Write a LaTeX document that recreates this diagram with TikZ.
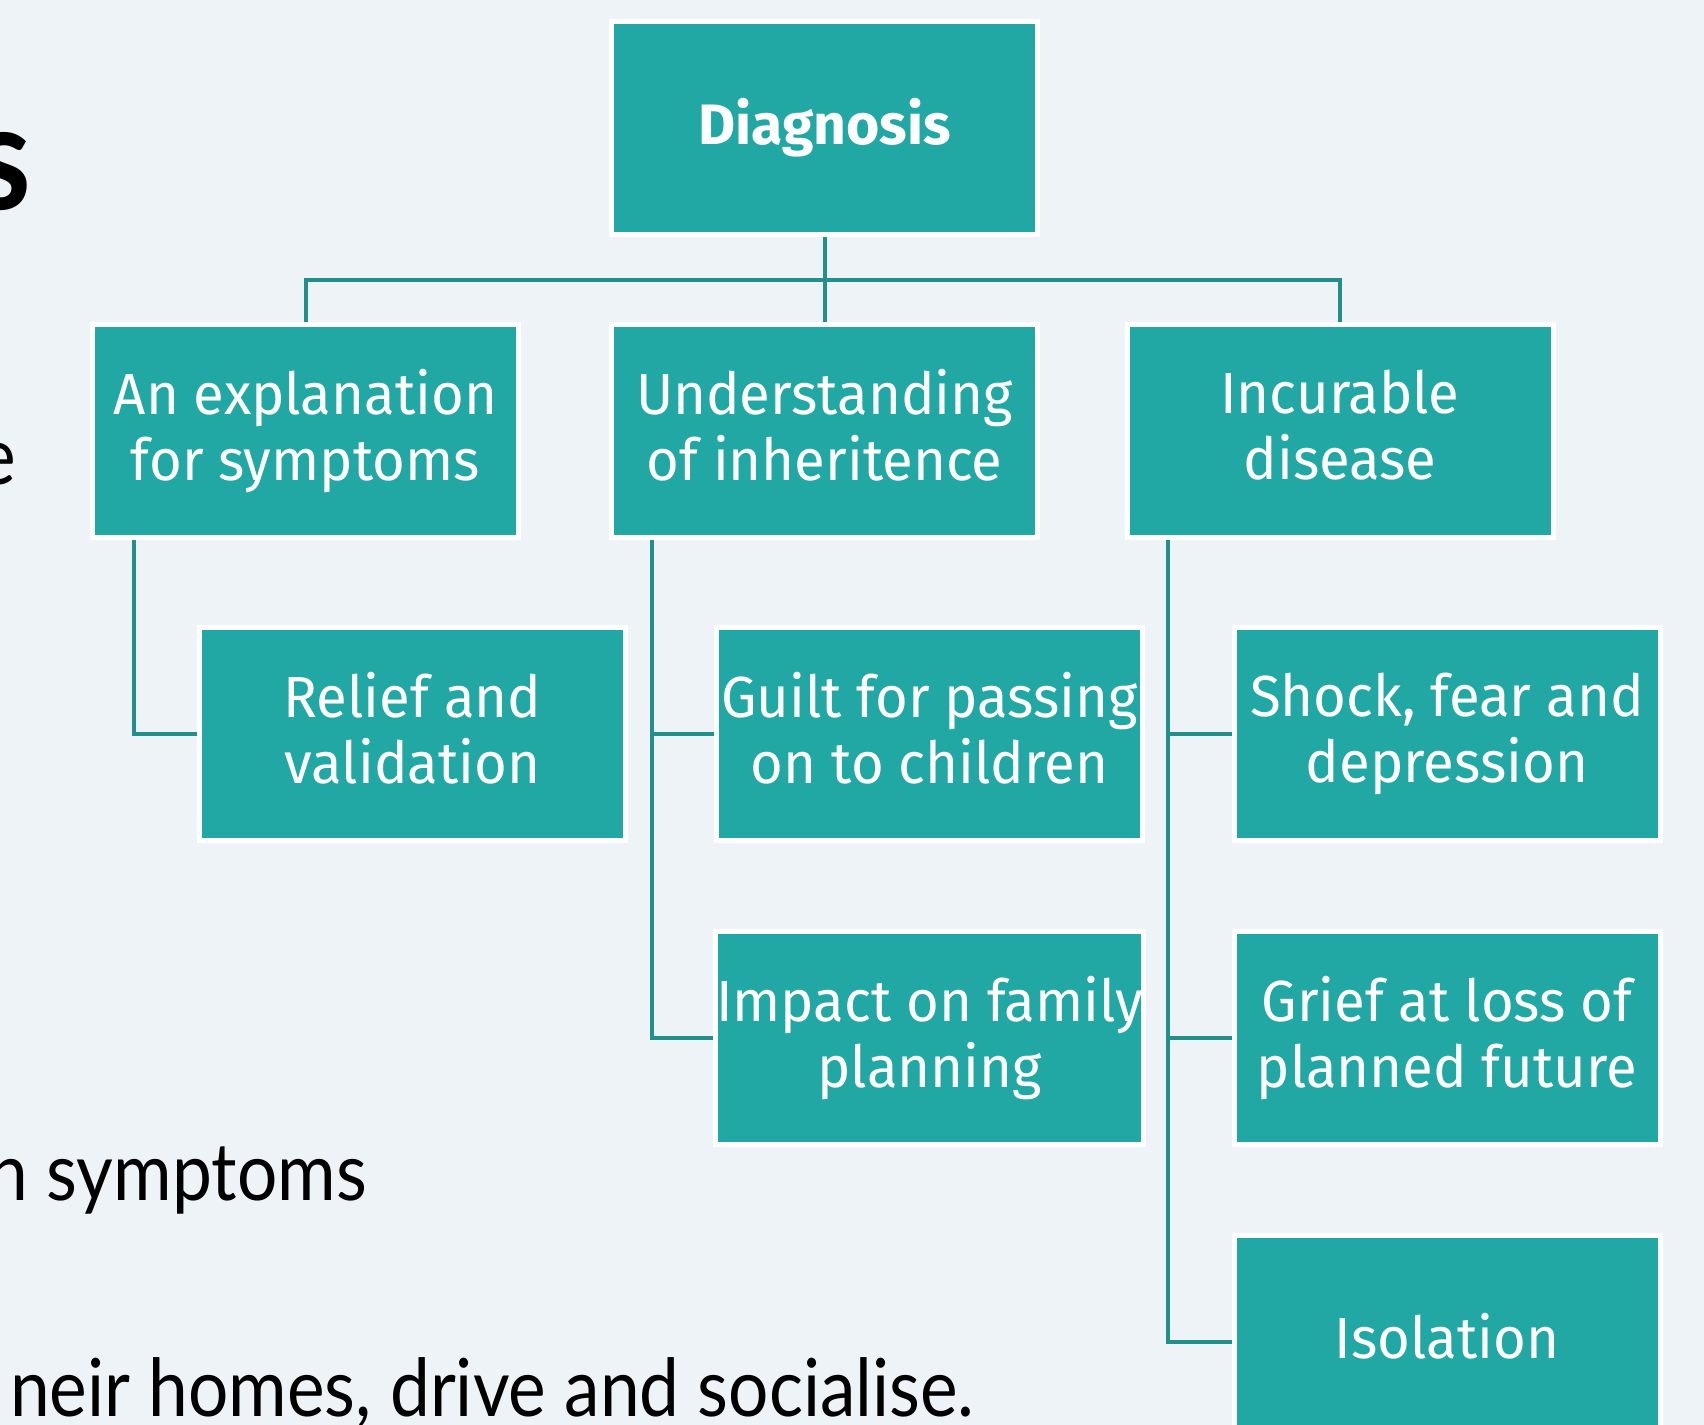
\documentclass[tikz,border=0pt]{standalone}
\usepackage{fontspec}
\newfontfamily\boxfont[FakeStretch=0.97]{Fira Sans}
\newfontfamily\diagfont{Fira Sans}
\newfontfamily\slidefont[FakeStretch=0.89]{Lato}
\newcommand\ls{\vphantom{Ahlgpy}}
\definecolor{bgc}{HTML}{EEF3F7}
\definecolor{tealbox}{HTML}{22A8A4}
\definecolor{tealline}{HTML}{238F8B}
\begin{document}
\begin{tikzpicture}[x=0.5pt,y=-0.5pt,
  box/.style={rectangle, fill=tealbox, draw=white, line width=2.5pt,
    minimum width=213pt, minimum height=106.5pt, inner sep=0pt,
    text=white, align=center, font=\boxfont\fontsize{29}{33}\selectfont},
  topbox/.style={box, font=\diagfont\bfseries\fontsize{28.5}{32}\selectfont},
  conn/.style={draw=tealline, line width=2pt},
  slide/.style={inner sep=0pt, text=black, font=\slidefont\fontsize{40}{44}\selectfont}]
\clip (0,0) rectangle (1704,1425);
\fill[bgc] (0,0) rectangle (1704,1425);
% left slide text (cut off)
\node[slide, anchor=base east, font=\slidefont\bfseries\fontsize{74}{80}\selectfont] (t1) at (32,209) {s};
\node[slide, anchor=base east] (t2) at (16,484) {e};
\node[slide, anchor=base east] (t3) at (367,1200) {n symptoms};
\node[slide, anchor=base east] (t4) at (975,1416) {neir homes, drive and socialise.};
% boxes
\node[topbox] (diag) at (824.5,127.5) {Diagnosis};
\node[box] (a) at (305.5,431) {An explanation\ls\\for symptoms\ls};
\node[box] (b) at (824.5,431) {Understanding\ls\\of inheritence\ls};
\node[box] (c) at (1340,431) {Incurable\ls\\disease\ls};
\node[box] (relief) at (412.5,734) {Relief and\ls\\validation\ls};
\node[box] (guilt) at (929.5,734) {Guilt for passing\ls\\on to children\ls};
\node[box] (shock) at (1447,734) {Shock, fear and\ls\\depression\ls};
\node[box] (impact) at (929.5,1038) {Impact on family\ls\\planning\ls};
\node[box] (grief) at (1447,1038) {Grief at loss of\ls\\planned future\ls};
\node[box] (iso) at (1447,1342) {Isolation\ls};
% connectors
\coordinate (hb) at (824.5,280);
\coordinate (ax) at (134,0);
\coordinate (bx) at (652,0);
\coordinate (cx) at (1168,0);
\draw[conn] (diag.south) -- (hb);
\draw[conn] (a.north) |- (hb) -| (c.north);
\draw[conn] (hb) -- (b.north);
\draw[conn] (a.south -| ax) |- (relief.west);
\draw[conn] (b.south -| bx) |- (impact.west);
\draw[conn] (bx |- guilt.west) -- (guilt.west);
\draw[conn] (c.south -| cx) |- (iso.west);
\draw[conn] (cx |- shock.west) -- (shock.west);
\draw[conn] (cx |- grief.west) -- (grief.west);
\end{tikzpicture}
\end{document}
